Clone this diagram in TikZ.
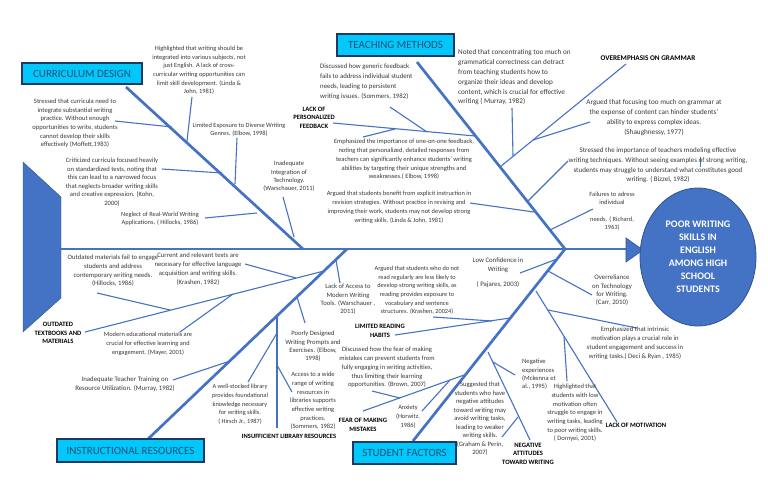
\documentclass[tikz,border=0pt]{standalone}
\usepackage{fontspec}
\setmainfont{Carlito}
\usetikzlibrary{shapes.geometric}
\definecolor{boneblue}{RGB}{68,114,196}
\definecolor{darkblue}{RGB}{47,82,143}
\definecolor{catfill}{RGB}{0,200,250}
\definecolor{catline}{RGB}{31,56,100}
\definecolor{cattext}{RGB}{31,78,121}
\definecolor{txtgray}{RGB}{55,55,55}
\newcommand{\fs}[2]{\fontsize{#1}{#2}\selectfont}
\begin{document}
\begin{tikzpicture}[x=1pt,y=-1pt,
  bone/.style={draw=boneblue,line width=2.7pt},
  twig/.style={draw=boneblue,line width=1.1pt},
  note/.style={text=txtgray,align=center,inner sep=0pt,font=\fs{6.4}{8.5}},
  noteL/.style={note,align=left},
  tag/.style={text=black,align=center,inner sep=0pt,font=\fs{6.6}{8.4}\bfseries},
  catbox/.style={draw=catline,line width=1.3pt,fill=catfill,text=cattext,font=\fs{11}{12},inner sep=0pt}]
\path[use as bounding box] (0,0) rectangle (768,490);

% ---------- coordinates ----------
\coordinate (sp0) at (61,249);   \coordinate (sp1) at (628,249);
\coordinate (cdA) at (126,87);   \coordinate (cdB) at (303,249);
\coordinate (tmA) at (417,62);   \coordinate (tmB) at (565,249);
\coordinate (irA) at (148,439);  \coordinate (irB) at (347,249);
\coordinate (sfA) at (413,441);  \coordinate (sfB) at (565,249);
% curriculum twigs
\coordinate (c1a) at (192,97);  \coordinate (c1b) at (187,141);
\coordinate (c2a) at (115,121); \coordinate (c2b) at (172,127);
\coordinate (c3a) at (237,138); \coordinate (c3b) at (235,184);
\coordinate (c4a) at (162,169); \coordinate (c4b) at (222,173);
\coordinate (c5a) at (205,218); \coordinate (c5b) at (257,213);
\coordinate (c6a) at (283,197); \coordinate (c6b) at (294,237);
% teaching twigs
\coordinate (t1a) at (333,123); \coordinate (t1b) at (475,136);
\coordinate (t1c) at (390,107); \coordinate (t1d) at (427,132);
\coordinate (t1e) at (363,137); \coordinate (t1f) at (395,129);
\coordinate (t2a) at (626,64);  \coordinate (t2b) at (500,167);
\coordinate (t2c) at (512,108); \coordinate (t2d) at (513,156);
\coordinate (t2e) at (590,122); \coordinate (t2f) at (533,140);
\coordinate (t3a) at (568,161); \coordinate (t3b) at (528,201);
\coordinate (t3c) at (700,157); \coordinate (t3d) at (700,167);
\coordinate (t4a) at (470,203); \coordinate (t4b) at (534,212);
\coordinate (t5a) at (593,209); \coordinate (t5b) at (550,230);
% student twigs
\coordinate (m0a) at (536,291); \coordinate (m0b) at (617,422);
\coordinate (m1a) at (548,310); \coordinate (m1b) at (637,328);
\coordinate (m2a) at (564,337); \coordinate (m2b) at (567,381);
\coordinate (o1a) at (548,271); \coordinate (o1b) at (592,295);
\coordinate (lca) at (520,273); \coordinate (lcb) at (557,259);
\coordinate (lra) at (395,335); \coordinate (lrb) at (510,318);
\coordinate (lrc) at (433,317); \coordinate (lrd) at (492,321);
\coordinate (naa) at (488,352); \coordinate (nab) at (530,440);
\coordinate (nac) at (493,362); \coordinate (nad) at (515,375);
\coordinate (nae) at (518,417); \coordinate (naf) at (502,437);
\coordinate (fma) at (363,411); \coordinate (fmb) at (467,374);
\coordinate (fmc) at (372,391); \coordinate (fmd) at (400,398);
\coordinate (fme) at (422,411); \coordinate (fmf) at (450,380);
% instructional twigs
\coordinate (ota) at (85,332);  \coordinate (otb) at (324,271);
\coordinate (otc) at (245,264); \coordinate (otd) at (296,278);
\coordinate (ote) at (180,332); \coordinate (otf) at (233,294);
\coordinate (otg) at (97,293);  \coordinate (oth) at (170,310);
\coordinate (laa) at (336,260); \coordinate (lab) at (340,283);
\coordinate (pda) at (297,297); \coordinate (pdb) at (305,323);
\coordinate (tta) at (173,380); \coordinate (ttb) at (230,361);
\coordinate (ila) at (277,316); \coordinate (ilb) at (277,428);
\coordinate (ilc) at (248,382); \coordinate (ild) at (277,333);
\coordinate (ile) at (277,365); \coordinate (ilf) at (292,392);

% ---------- tail and head ----------
\filldraw[fill=boneblue,draw=darkblue,line width=0.4pt] (23,162)--(61,197)--(61,298)--(23,332)--cycle;
\draw[bone] (sp0) -- (sp1);
\filldraw[fill=boneblue,draw=darkblue,line width=0.6pt] (626,238)--(643,250)--(626,262)--cycle;
\node[ellipse,fill=boneblue,draw=darkblue,line width=0.8pt,minimum width=116,minimum height=138,inner sep=0pt,
      text=white,align=center,font=\fs{10}{13}\bfseries] (head) at (698,257)
  {POOR WRITING\\SKILLS IN\\ENGLISH\\AMONG HIGH\\SCHOOL\\STUDENTS};

% ---------- bones ----------
\draw[bone] (cdA) -- (cdB);
\draw[bone] (tmA) -- (tmB);
\draw[bone] (irA) -- (irB);
\draw[bone] (sfA) -- (sfB);

% ---------- twigs ----------
\foreach \a/\b in {c1a/c1b,c2a/c2b,c3a/c3b,c4a/c4b,c5a/c5b,c6a/c6b,
  t1a/t1b,t1c/t1d,t1e/t1f,t2a/t2b,t2c/t2d,t2e/t2f,t3a/t3b,t4a/t4b,t5a/t5b,
  m0a/m0b,m1a/m1b,m2a/m2b,o1a/o1b,lca/lcb,lra/lrb,lrc/lrd,naa/nab,nac/nad,nae/naf,
  fma/fmb,fmc/fmd,fme/fmf,ota/otb,otc/otd,ote/otf,otg/oth,laa/lab,pda/pdb,tta/ttb,
  ila/ilb,ilc/ild,ile/ilf}
  \draw[twig] (\a) -- (\b);
\draw[draw=boneblue,line width=0.6pt] (t3c) -- (t3d);

% ---------- category boxes ----------
\node[catbox,minimum width=120,minimum height=21] (cd) at (82,73.5) {CURRICULUM DESIGN};
\node[catbox,minimum width=117,minimum height=22] (tm) at (395.5,45) {TEACHING METHODS};
\node[catbox,minimum width=147,minimum height=23] (ir) at (130.5,450.5) {INSTRUCTIONAL RESOURCES};
\node[catbox,minimum width=103,minimum height=22] (sf) at (404.5,453) {STUDENT FACTORS};

% ---------- curriculum texts ----------
\node[note,font=\fs{6.4}{8.6}] (n1) at (199,70.5) {Highlighted that writing should be\\integrated into various subjects, not\\just English. A lack of cross-\\curricular writing opportunities can\\limit skill development. (Linda \&\\John, 1981)};
\node[note,font=\fs{6.6}{8.6}] (n2) at (75,123.5) {Stressed that curricula need to\\integrate substantial writing\\practice. Without enough\\opportunities to write, students\\cannot develop their skills\\effectively (Moffett,1983)};
\node[note,font=\fs{6.4}{8.2}] (n3) at (239,130) {Limited Exposure to Diverse Writing\\Genres. (Elbow, 1998)};
\node[note,font=\fs{6.6}{8.5}] (n4) at (112,182) {Criticized curricula focused heavily\\on standardized tests, noting that\\this can lead to a narrowed focus\\that neglects broader writing skills\\and creative expression. (Kohn,\\2000)};
\node[note,font=\fs{6.4}{8.2}] (n5) at (160,219) {Neglect of Real-World Writing\\Applications. ( Hillocks, 1986)};
\node[note,font=\fs{6.5}{8.4}] (n6) at (289,176.5) {Inadequate\\Integration of\\Technology.\\(Warschauer, 2011)};

% ---------- teaching texts ----------
\node[tag] (n7) at (314,117.5) {LACK OF\\PERSONALIZED\\FEEDBACK};
\node[noteL,font=\fs{6.8}{10},anchor=west] (n8) at (320,82) {Discussed how generic feedback\\fails to address individual student\\needs, leading to persistent\\writing issues. (Sommers, 1982)};
\node[note,font=\fs{6.5}{8.7}] (n9) at (404,159.5) {Emphasized the importance of one-on-one feedback,\\noting that personalized, detailed responses from\\teachers can significantly enhance students' writing\\abilities by targeting their unique strengths and\\weaknesses.( Elbow, 1998)};
\node[note,font=\fs{6.4}{9}] (n10) at (399,207.5) {Argued that students benefit from explicit instruction in\\revision strategies. Without practice in revising and\\improving their work, students may not develop strong\\writing skills. (Linda \& John, 1981)};
\node[noteL,font=\fs{7.2}{9.8},anchor=west] (n11) at (458,77.5) {Noted that concentrating too much on\\grammatical correctness can detract\\from teaching students how to\\organize their ideas and develop\\content, which is crucial for effective\\writing ( Murray, 1982)};
\node[tag,font=\fs{7.2}{8}\bfseries] (n12) at (648,58) {OVEREMPHASIS ON GRAMMAR};
\node[note,font=\fs{7.2}{10}] (n13) at (654,118) {Argued that focusing too much on grammar at\\the expense of content can hinder students'\\ability to express complex ideas.\\(Shaughnessy, 1977)};
\node[note,font=\fs{7}{9.7}] (n14) at (658,165.5) {Stressed the importance of teachers modeling effective\\writing techniques. Without seeing examples of strong writing,\\students may struggle to understand what constitutes good\\writing. ( Bizzel, 1982)};
\node[note,font=\fs{6.4}{8.3}] (n15) at (612,211.5) {Failures to adress\\individual\\[8.5pt]needs. ( Richard,\\1963)};

% ---------- student texts ----------
\node[note,font=\fs{6.8}{8.8}] (n16) at (498,273) {Low Confidence in\\Writing\\[6pt]( Pajares, 2003)};
\node[note,font=\fs{6.8}{8.4}] (n17) at (612,290.5) {Overreliance\\on Technology\\for Writing.\\(Carr, 2010)};
\node[note,font=\fs{6.7}{9}] (n18) at (635,343.5) {Emphasized that intrinsic\\motivation plays a crucial role in\\student engagement and success in\\writing tasks.( Deci \& Ryan , 1985)};
\node[tag] (n19) at (636,425) {LACK OF MOTIVATION};
\node[note,font=\fs{6.5}{8.7}] (n20) at (575,413) {Highlighted that\\students with low\\motivation often\\struggle to engage in\\writing tasks, leading\\to poor writing skills.\\( Dornyei, 2001)};
\node[noteL,font=\fs{6.6}{8.4},anchor=west] (n21) at (522,374.5) {Negative\\experiences\\(Mckenna et\\al., 1995)};
\node[note,font=\fs{6.6}{8.5}] (n22) at (480,419) {Suggested that\\students who have\\negative attitudes\\toward writing may\\avoid writing tasks,\\leading to weaker\\writing skills.\\(Graham \& Perin,\\2007)};
\node[tag] (n23) at (528,453.5) {NEGATIVE\\ATTITUDES\\TOWARD WRITING};
\node[note,font=\fs{6.3}{8.6}] (n24) at (417,290.5) {Argued that students who do not\\read regularly are less likely to\\develop strong writing skills, as\\reading provides exposure to\\vocabulary and sentence\\structures. (Krashen, 20024)};
\node[tag] (n25) at (380,331) {LIMITED READING\\HABITS};
\node[note,font=\fs{6.6}{8.8}] (n28) at (387,367.5) {Discussed how the fear of making\\mistakes can prevent students from\\fully engaging in writing activities,\\thus limiting their learning\\opportunities. (Brown, 2007)};
\node[tag] (n29) at (363,425) {FEAR OF MAKING\\MISTAKES};
\node[note,font=\fs{6.4}{8.8}] (n30) at (408,417) {Anxiety\\(Horwitz,\\1986)};

% ---------- instructional texts ----------
\node[note,font=\fs{6.6}{8.4}] (n26) at (348,299.5) {Lack of Access to\\Modern Writing\\Tools. (Warschauer ,\\2011)};
\node[note,font=\fs{6.6}{8.4}] (n27) at (313,346.5) {Poorly Designed\\Writing Prompts and\\Exercises. (Elbow,\\1998)};
\node[note,font=\fs{6.5}{8.7}] (n31) at (313,401) {Access to a wide\\range of writing\\resources in\\libraries supports\\effective writing\\practices.\\(Sommers, 1982)};
\node[note,font=\fs{6.3}{8.7}] (n32) at (240,404.5) {A well-stocked library\\provides foundational\\knowledge necessary\\for writing skills.\\( Hirsch Jr., 1987)};
\node[tag,font=\fs{6.5}{8}\bfseries] (n33) at (289,436) {INSUFFICIENT LIBRARY RESOURCES};
\node[note,font=\fs{6.8}{8.4}] (n34) at (125,384) {Inadequate Teacher Training on\\Resource Utilization. (Murray, 1982)};
\node[note,font=\fs{6.4}{8.9}] (n35) at (148,344) {Modern educational materials are\\crucial for effective learning and\\engagement. (Mayer, 2001)};
\node[tag] (n36) at (58,333) {OUTDATED\\TEXTBOOKS AND\\MATERIALS};
\node[note,font=\fs{6.7}{8.7}] (n37) at (113,271) {Outdated materials fail to engage\\students and address\\contemporary writing needs.\\(Hillocks, 1986)};
\node[note,font=\fs{6.7}{9}] (n38) at (198,269.5) {Current and relevant texts are\\necessary for effective language\\acquisition and writing skills.\\(Krashen, 1982)};
\end{tikzpicture}
\end{document}
